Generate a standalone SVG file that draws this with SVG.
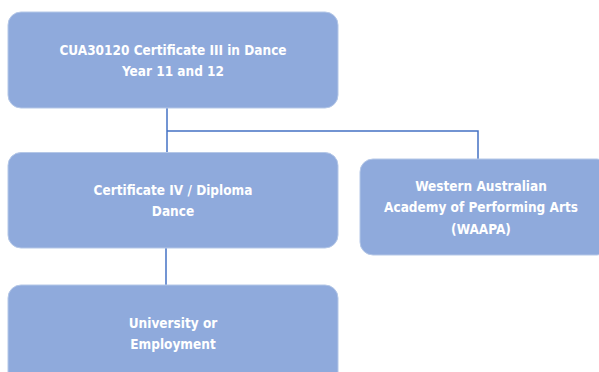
<svg xmlns="http://www.w3.org/2000/svg" width="599" height="372" viewBox="0 0 599 372">
<style>
.box{fill:#8faadc;stroke:#b4c7e7;stroke-width:1}
.t{font-family:"DejaVu Sans Condensed","Liberation Sans",sans-serif;font-weight:bold;font-size:13.5px;fill:#ffffff;text-anchor:middle}
.c{stroke:#4472c4;stroke-width:1.5;fill:none}
</style>
<rect width="599" height="372" fill="#ffffff"/>
<g id="connectors">
<path class="c" d="M167,108 V152"/>
<path class="c" d="M167,131 H478 V159"/>
<path class="c" d="M166,248 V285"/>
</g>
<g id="n1">
<rect class="box" x="8" y="12" width="330" height="96" rx="13"/>
<text class="t" x="173" y="55">CUA30120 Certificate III in Dance</text>
<text class="t" x="173" y="76">Year 11 and 12</text>
</g>
<g id="n2">
<rect class="box" x="8" y="152.5" width="330" height="95.5" rx="13"/>
<text class="t" x="173" y="195">Certificate IV / Diploma</text>
<text class="t" x="173" y="216">Dance</text>
</g>
<g id="n3">
<rect class="box" x="360" y="159" width="250" height="96" rx="13"/>
<text class="t" x="481" y="191">Western Australian</text>
<text class="t" x="481" y="212">Academy of Performing Arts</text>
<text class="t" x="481" y="234">(WAAPA)</text>
</g>
<g id="n4">
<rect class="box" x="8" y="285" width="330" height="100" rx="13"/>
<text class="t" x="173" y="328">University or</text>
<text class="t" x="173" y="349">Employment</text>
</g>
</svg>
